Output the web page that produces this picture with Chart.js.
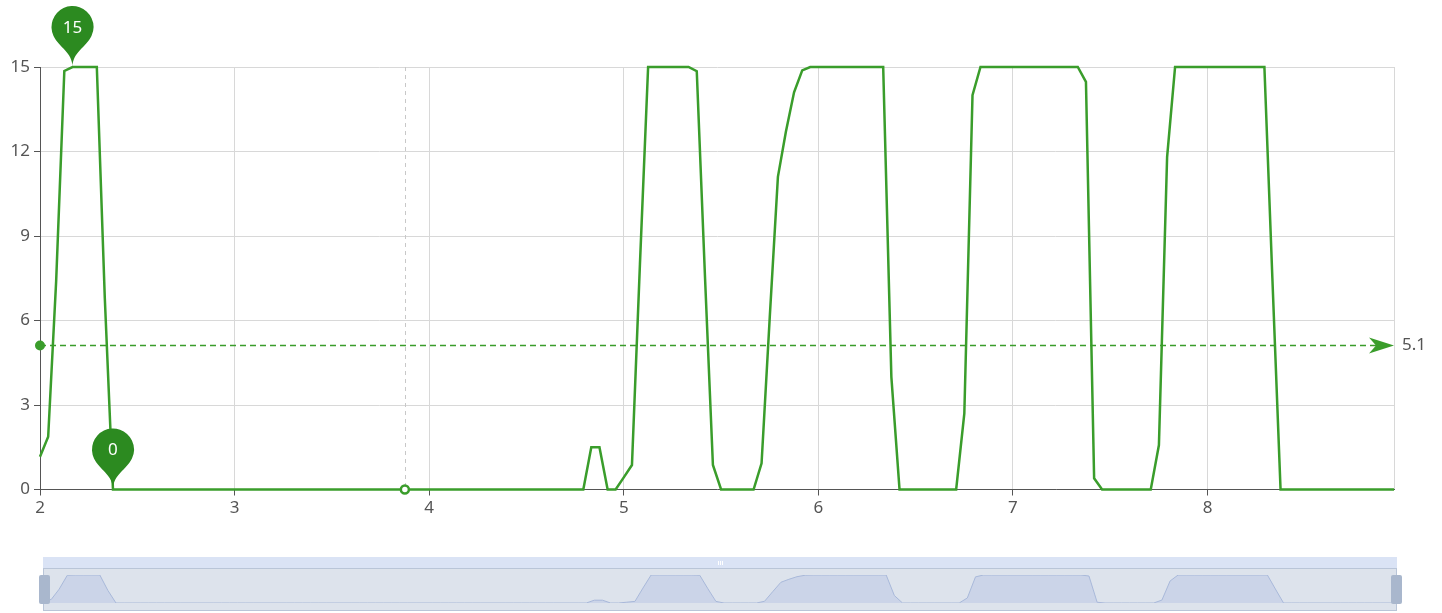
<!DOCTYPE html>
<html>
<head>
<meta charset="utf-8">
<title>chart</title>
<script src="https://cdn.jsdelivr.net/npm/chart.js@4.4.0/dist/chart.umd.min.js"></script>
<style>
  html, body { margin: 0; padding: 0; background: #fff; }
  #wrap { position: relative; width: 1442px; height: 613px; overflow: hidden; }
  #main { position: absolute; left: 0; top: 0; }
  .band { position: absolute; left: 43px; width: 1354px; top: 557px; height: 11px; background: #dae3f5; }
  .grip { position: absolute; top: 561px; width: 1px; height: 4px; background: #fff; }
  .box { position: absolute; left: 43px; width: 1352px; top: 568px; height: 41px; background: #dde3ec; border: 1px solid #b9c5d8; }
  #preview { position: absolute; left: 43px; top: 575px; }
  .handle { position: absolute; top: 575px; width: 11px; height: 29px; background: #a9b7cd; border-radius: 2px; }
</style>
</head>
<body>
<div id="wrap">
  <canvas id="main" width="1442" height="540"></canvas>
  <div class="band"></div>
  <div class="grip" style="left:718px"></div>
  <div class="grip" style="left:720px"></div>
  <div class="grip" style="left:722px"></div>
  <div class="box"></div>
  <canvas id="preview" width="1354" height="28"></canvas>
  <div class="handle" style="left:39px"></div>
  <div class="handle" style="left:1391px"></div>
</div>
<script>
// x values (one row per unit, hourly steps)
const xs = [
  2.000, 2.042, 2.083, 2.125, 2.167, 2.208, 2.250, 2.292, 2.333, 2.375, 2.417, 2.458,
  2.500, 2.542, 2.583, 2.625, 2.667, 2.708, 2.750, 2.792, 2.833, 2.875, 2.917, 2.958,
  3.000, 3.042, 3.083, 3.125, 3.167, 3.208, 3.250, 3.292, 3.333, 3.375, 3.417, 3.458,
  3.500, 3.542, 3.583, 3.625, 3.667, 3.708, 3.750, 3.792, 3.833, 3.875, 3.917, 3.958,
  4.000, 4.042, 4.083, 4.125, 4.167, 4.208, 4.250, 4.292, 4.333, 4.375, 4.417, 4.458,
  4.500, 4.542, 4.583, 4.625, 4.667, 4.708, 4.750, 4.792, 4.833, 4.875, 4.917, 4.958,
  5.000, 5.042, 5.083, 5.125, 5.167, 5.208, 5.250, 5.292, 5.333, 5.375, 5.417, 5.458,
  5.500, 5.542, 5.583, 5.625, 5.667, 5.708, 5.750, 5.792, 5.833, 5.875, 5.917, 5.958,
  6.000, 6.042, 6.083, 6.125, 6.167, 6.208, 6.250, 6.292, 6.333, 6.375, 6.417, 6.458,
  6.500, 6.542, 6.583, 6.625, 6.667, 6.708, 6.750, 6.792, 6.833, 6.875, 6.917, 6.958,
  7.000, 7.042, 7.083, 7.125, 7.167, 7.208, 7.250, 7.292, 7.333, 7.375, 7.417, 7.458,
  7.500, 7.542, 7.583, 7.625, 7.667, 7.708, 7.750, 7.792, 7.833, 7.875, 7.917, 7.958,
  8.000, 8.042, 8.083, 8.125, 8.167, 8.208, 8.250, 8.292, 8.333, 8.375, 8.417, 8.458,
  8.500, 8.542, 8.583, 8.625, 8.667, 8.708, 8.750, 8.792, 8.833, 8.875, 8.917, 8.958
];
const values = [
  1.16, 1.87, 7.4, 14.86, 15, 15, 15, 15, 6.8, 0, 0, 0, 0, 0, 0, 0, 0, 0, 0, 0, 0, 0, 0, 0,
  0, 0, 0, 0, 0, 0, 0, 0, 0, 0, 0, 0, 0, 0, 0, 0, 0, 0, 0, 0, 0, 0, 0, 0,
  0, 0, 0, 0, 0, 0, 0, 0, 0, 0, 0, 0, 0, 0, 0, 0, 0, 0, 0, 0, 1.5, 1.5, 0, 0,
  0.43, 0.87, 8, 15, 15, 15, 15, 15, 15, 14.85, 7.6, 0.87, 0, 0, 0, 0, 0, 0.93, 6.1, 11.1, 12.7, 14.1, 14.88, 15,
  15, 15, 15, 15, 15, 15, 15, 15, 15, 4, 0, 0, 0, 0, 0, 0, 0, 0, 2.7, 14, 15, 15, 15, 15,
  15, 15, 15, 15, 15, 15, 15, 15, 15, 14.47, 0.4, 0, 0, 0, 0, 0, 0, 0, 1.58, 11.8, 15, 15, 15, 15,
  15, 15, 15, 15, 15, 15, 15, 15, 7.5, 0, 0, 0, 0, 0, 0, 0, 0, 0, 0, 0, 0, 0, 0, 0
];
const xTicks = [2, 3, 4, 5, 6, 7, 8];
const yTicks = [0, 3, 6, 9, 12, 15];
const hoverX = 3.875;

const green = '#3a9d2b';
const pinGreen = '#2c8a20';
const points = xs.map((x, i) => ({ x: x, y: values[i] }));
const hoverIndex = xs.indexOf(hoverX);

Chart.defaults.font.family = "'Noto Sans', sans-serif";
Chart.defaults.font.size = 17;
Chart.defaults.color = '#555';

// echarts style pin marker
function drawPin(ctx, x, y, size, text) {
    const w = size / 5 * 3, h = size, r = w / 2;
    const dy = r * r / (h - r);
    const cy = y - h + r + dy;
    const angle = Math.asin(dy / r);
    const dx = Math.cos(angle) * r;
    const tanX = Math.sin(angle), tanY = Math.cos(angle);
    const cpLen = r * 0.6, cpLen2 = r * 0.7;
    ctx.beginPath();
    ctx.moveTo(x - dx, cy + dy);
    ctx.arc(x, cy, r, Math.PI - angle, Math.PI * 2 + angle);
    ctx.bezierCurveTo(x + dx - tanX * cpLen, cy + dy + tanY * cpLen, x, y - cpLen2, x, y);
    ctx.bezierCurveTo(x, y - cpLen2, x - dx + tanX * cpLen, cy + dy + tanY * cpLen, x - dx, cy + dy);
    ctx.closePath();
    ctx.fillStyle = pinGreen;
    ctx.fill();
    ctx.fillStyle = '#fff';
    ctx.textAlign = 'center';
    ctx.textBaseline = 'middle';
    ctx.font = "17px 'Noto Sans', sans-serif";
    ctx.fillText(text, x, cy + 1);
}

const extras = {
    id: 'extras',
    beforeDatasetsDraw(chart) {
        // hover pointer line
        const { ctx, chartArea, scales } = chart;
        const px = scales.x.getPixelForValue(hoverX);
        ctx.save();
        ctx.strokeStyle = '#c8c8c8';
        ctx.lineWidth = 1;
        ctx.setLineDash([4, 4]);
        ctx.beginPath();
        ctx.moveTo(Math.round(px) + 0.5, chartArea.top);
        ctx.lineTo(Math.round(px) + 0.5, chartArea.bottom);
        ctx.stroke();
        ctx.restore();
    },
    afterDatasetsDraw(chart) {
        const { ctx, chartArea, scales } = chart;
        ctx.save();

        // average line
        const mean = values.reduce((a, b) => a + b, 0) / values.length;
        const py = scales.y.getPixelForValue(mean);
        const x0 = chartArea.left, x1 = chartArea.right;
        ctx.strokeStyle = green;
        ctx.fillStyle = green;
        ctx.lineWidth = 1.5;
        ctx.setLineDash([6, 4]);
        ctx.beginPath();
        ctx.moveTo(x0, py);
        ctx.lineTo(x1 - 18, py);
        ctx.stroke();
        ctx.setLineDash([]);
        ctx.beginPath();
        ctx.arc(x0, py, 5, 0, Math.PI * 2);
        ctx.fill();
        ctx.beginPath();
        ctx.moveTo(x1, py);
        ctx.lineTo(x1 - 25, py - 8);
        ctx.lineTo(x1 - 18, py);
        ctx.lineTo(x1 - 25, py + 8);
        ctx.closePath();
        ctx.fill();
        ctx.fillStyle = '#555';
        ctx.font = "17px 'Noto Sans', sans-serif";
        ctx.textAlign = 'left';
        ctx.textBaseline = 'middle';
        ctx.fillText(mean.toFixed(1), x1 + 8, py);

        // max / min pins
        const maxV = Math.max(...values), minV = Math.min(...values);
        const iMax = values.indexOf(maxV), iMin = values.indexOf(minV);
        drawPin(ctx, scales.x.getPixelForValue(xs[iMax]), scales.y.getPixelForValue(maxV), 70, String(maxV));
        drawPin(ctx, scales.x.getPixelForValue(xs[iMin]), scales.y.getPixelForValue(minV), 70, String(minV));
        ctx.restore();
    }
};

new Chart(document.getElementById('main'), {
    type: 'line',
    data: {
        datasets: [{
            data: points,
            borderColor: green,
            borderWidth: 2.5,
            tension: 0,
            clip: false,
            pointRadius: ctx => ctx.dataIndex === hoverIndex ? 4 : 0,
            pointBackgroundColor: '#fff',
            pointBorderColor: green,
            pointBorderWidth: 2.5
        }]
    },
    options: {
        responsive: false,
        animation: false,
        layout: { padding: { top: 67, right: 48, left: 0, bottom: 0 } },
        plugins: { legend: { display: false }, tooltip: { enabled: false } },
        scales: {
            x: {
                type: 'linear',
                min: xs[0],
                max: xs[xs.length - 1],
                afterBuildTicks: s => { s.ticks = xTicks.map(v => ({ value: v })).concat([{ value: s.max }]); },
                afterFit: s => { s.height = 540 - 489.5; },
                ticks: {
                    callback: v => xTicks.includes(v) ? v : '',
                    padding: 2,
                    maxRotation: 0,
                    autoSkip: false
                },
                grid: {
                    color: '#d8d8d8',
                    tickLength: 6,
                    tickColor: ctx => xTicks.includes(ctx.tick && ctx.tick.value) ? '#555' : 'rgba(0,0,0,0)'
                },
                border: { color: '#555', width: 1 }
            },
            y: {
                min: 0,
                max: 15,
                afterBuildTicks: s => { s.ticks = yTicks.map(v => ({ value: v })); },
                afterFit: s => { s.width = 40; },
                ticks: { padding: 4 },
                grid: { color: '#d8d8d8', tickLength: 6, tickColor: '#555' },
                border: { color: '#555', width: 1 }
            }
        }
    },
    plugins: [extras]
});

// data zoom preview
new Chart(document.getElementById('preview'), {
    type: 'line',
    data: {
        datasets: [{
            data: points,
            borderColor: '#a8b8d9',
            borderWidth: 1,
            backgroundColor: '#cbd4e8',
            fill: 'origin',
            pointRadius: 0,
            tension: 0
        }]
    },
    options: {
        responsive: false,
        animation: false,
        layout: { padding: 0 },
        plugins: { legend: { display: false }, tooltip: { enabled: false } },
        scales: {
            x: { type: 'linear', display: false, min: xs[0], max: xs[xs.length - 1] },
            y: { display: false, min: 0, max: 15 }
        }
    }
});
</script>
</body>
</html>
